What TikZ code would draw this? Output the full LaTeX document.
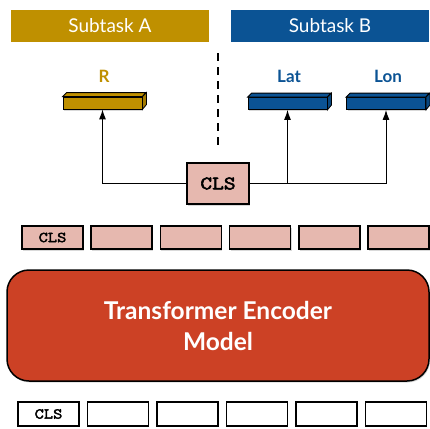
\documentclass[tikz,border=0pt]{standalone}
\usepackage{fontspec}
\setmainfont{Lato}
\newfontfamily\clsfont{Latin Modern Mono}[FakeBold=3,FakeStretch=1.2]
\usetikzlibrary{positioning,arrows.meta,shadows}

\definecolor{taskA}{RGB}{191,144,0}
\definecolor{taskB}{RGB}{11,83,148}
\definecolor{tokpink}{RGB}{230,184,175}
\definecolor{encred}{RGB}{204,65,37}

\tikzset{
  header/.style={fill=#1, text=white, minimum width=198pt, minimum height=32pt, inner sep=0pt, font=\fontsize{19}{20}\selectfont},
  outbox/.style={draw=black, fill=#1, line width=0.8pt, minimum width=79pt, minimum height=12pt, inner sep=0pt,
                 drop shadow={opacity=0.3, shadow xshift=1pt, shadow yshift=-1.5pt}},
  outlabel/.style={font=\fontsize{17}{18}\selectfont\bfseries, text=#1},
  token/.style={draw=black, line width=1.6pt, minimum width=61pt, minimum height=23pt, inner sep=0pt, font=\fontsize{15}{16}\clsfont},
  pinktok/.style={token, fill=tokpink, drop shadow={opacity=0.3, shadow xshift=1pt, shadow yshift=-1.5pt}},
  whitetok/.style={token, fill=white, minimum height=24pt},
  conn/.style={line width=1pt, -{Latex[length=10pt,width=7pt]}},
}

% top and side face of an output box
\newcommand{\boxfaces}[2]{%
  \draw[fill=#2, line width=0.8pt] (#1.north west) -- ++(4,-4) -- ++(79,0) -- (#1.north east) -- cycle;
  \draw[fill=#2!85!black, line width=0.8pt] (#1.north east) -- ++(4,-4) -- ++(0,12) -- (#1.south east) -- cycle;
}

\begin{document}
\begin{tikzpicture}[x=1pt,y=-1pt]
\useasboundingbox (0,0) rectangle (430,428);

% subtask headers
\node[header=taskA] (subA) at (110,26) {Subtask A};
\node[header=taskB] (subB) at (330,26) {Subtask B};

% separator
\draw[line width=1.5pt, dash pattern=on 8pt off 6pt] (218,53) -- (218,149);

% output heads
\node[outbox=taskA] (outR) at (102.5,103) {};
\node[outbox=taskB] (outLat) at (287.5,103.5) {};
\node[outbox=taskB] (outLon) at (386,103.5) {};
\boxfaces{outR}{taskA}
\boxfaces{outLat}{taskB}
\boxfaces{outLon}{taskB}

\node[outlabel=taskA] (labR) at (104,76) {R};
\node[outlabel=taskB] (labLat) at (289,76) {Lat};
\node[outlabel=taskB] (labLon) at (388,76) {Lon};

% pooled CLS and connectors
\coordinate (split) at (287.5,183.5);
\draw[conn] (split) -| (outR.south);
\draw[conn] (split) -| (outLon.south);
\draw[conn] (split) -- (outLat.south);
\node[pinktok, minimum width=62pt, minimum height=41pt, font=\fontsize{19}{20}\clsfont] (clsTop) at (218,183.5) {CLS};

% encoder outputs
\foreach \i in {0,...,5} {
  \node[pinktok] (h\i) at (52.5+69.2*\i,237.5) {\ifnum\i=0 CLS\fi};
}

% encoder
\node[draw=black, line width=1.5pt, fill=encred, rounded corners=22pt, minimum width=422pt, minimum height=111pt,
      text=white, align=center, font=\fontsize{24.5}{31}\selectfont\bfseries,
      drop shadow={opacity=0.3, shadow xshift=1pt, shadow yshift=-1.5pt}] (enc) at (218,325.5) {Transformer Encoder\\Model};

% input tokens
\foreach \i in {0,...,5} {
  \node[whitetok] (x\i) at (48.5+69.5*\i,414) {\ifnum\i=0 CLS\fi};
}

\end{tikzpicture}
\end{document}
